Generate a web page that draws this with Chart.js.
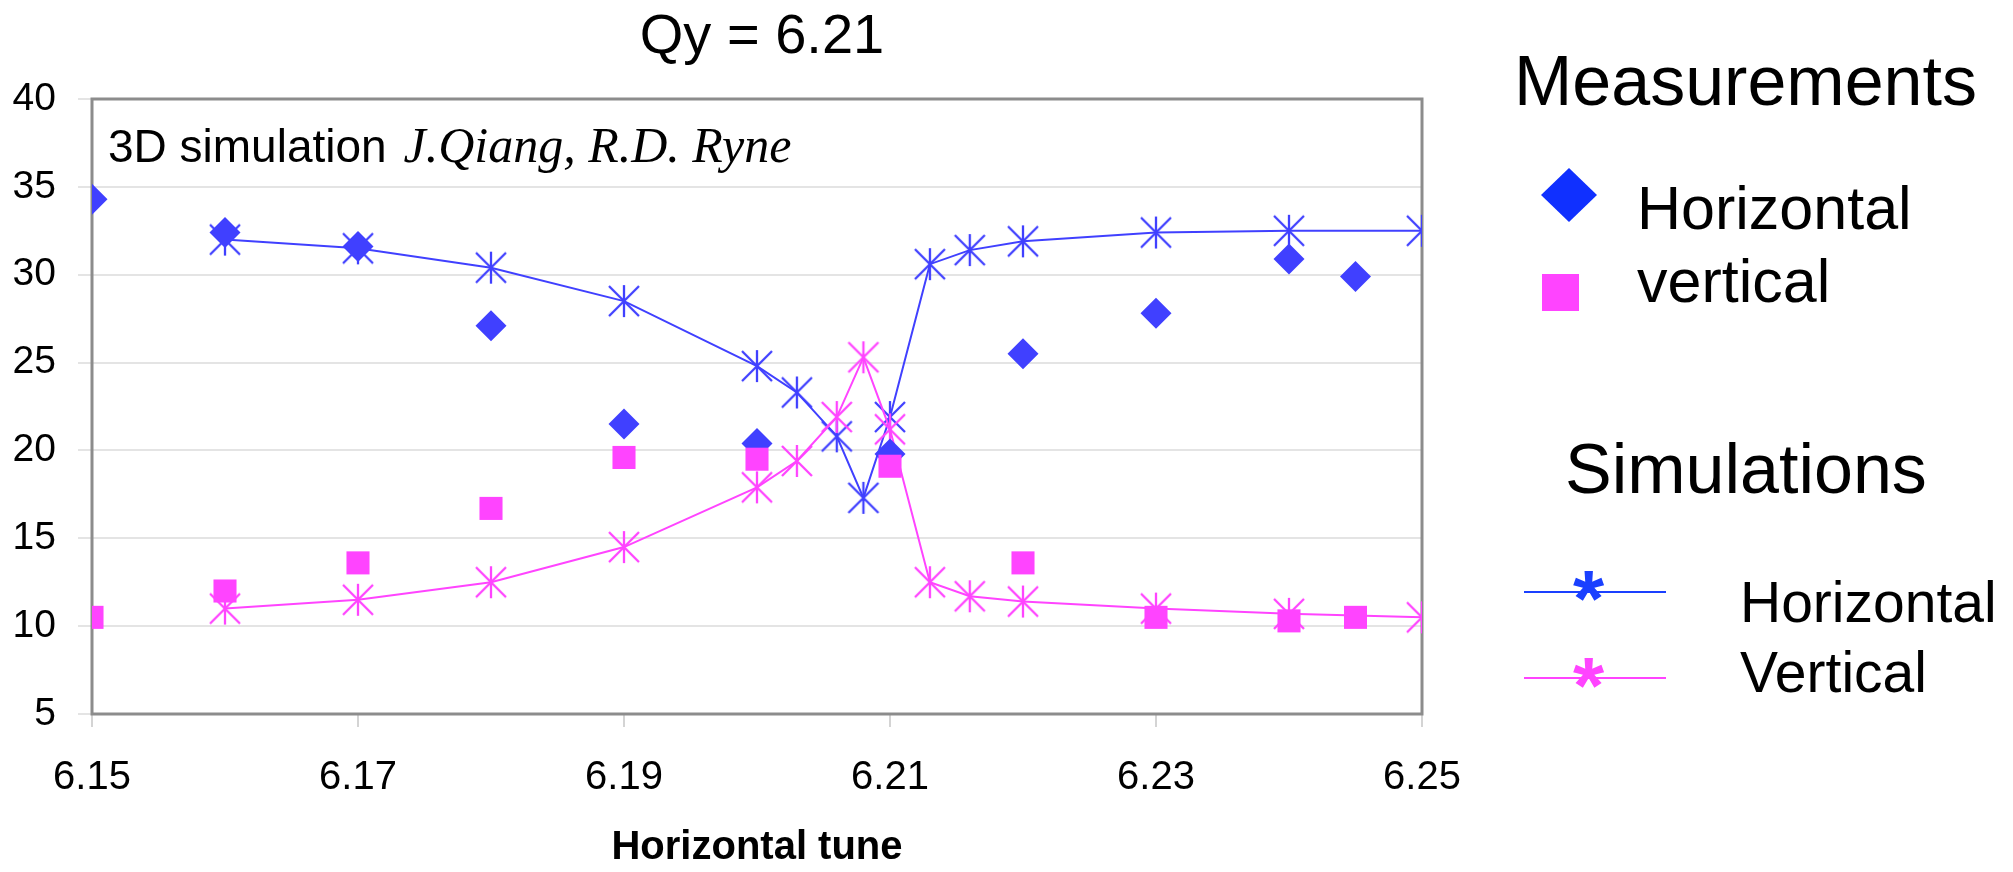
<!DOCTYPE html>
<html>
<head>
<meta charset="utf-8">
<title>Qy = 6.21</title>
<script src="https://cdn.jsdelivr.net/npm/chart.js@4.4.1/dist/chart.umd.min.js"></script>
<style>
  html, body { margin: 0; padding: 0; background: #ffffff; }
  #wrap { width: 2013px; height: 872px; }
</style>
</head>
<body>
<div id="wrap"><canvas id="chart" width="2013" height="872"></canvas></div>
<script>
// Horizontal-tune scan at Qy = 6.21: measured and simulated values
const measTune      = [6.15, 6.16, 6.17, 6.18, 6.19, 6.20, 6.21, 6.22, 6.23, 6.24, 6.245];
const measHoriz     = [34.3, 32.4, 31.6, 27.1, 21.5, 20.4, 19.8, 25.5, 27.8, 30.9, 29.9];
const measVert      = [10.5, 12.0, 13.6, 16.7, 19.6, 19.5, 19.1, 13.6, 10.5, 10.3, 10.5];

const simTune       = [6.16, 6.17, 6.18, 6.19, 6.20, 6.203, 6.206, 6.208, 6.21, 6.213, 6.216, 6.22, 6.23, 6.24, 6.25];
const simHoriz      = [32.0, 31.5, 30.4, 28.5, 24.8, 23.3, 20.8, 17.3, 21.9, 30.6, 31.4, 31.9, 32.4, 32.5, 32.5];
const simVert       = [11.0, 11.5, 12.5, 14.5, 17.9, 19.4, 21.9, 25.3, 21.2, 12.5, 11.7, 11.4, 11.0, 10.7, 10.5];

const xTickValues   = [6.15, 6.17, 6.19, 6.21, 6.23, 6.25];
const xTickLabels   = ['6.15', '6.17', '6.19', '6.21', '6.23', '6.25'];
const yTickValues   = [5, 10, 15, 20, 25, 30, 35, 40];
const yTickLabels   = ['5', '10', '15', '20', '25', '30', '35', '40'];

const BLUE = '#4040ff';
const PINK = '#ff44ff';
const SANS = "'Liberation Sans', Arial, sans-serif";
const SERIF = "'Liberation Serif', 'Times New Roman', serif";

const pairs = (xs, ys) => xs.map((x, i) => ({ x: x, y: ys[i] }));

// Excel-style star marker: an X with a vertical stroke
function starMarker(color) {
  const s = 34;
  const c = document.createElement('canvas');
  c.width = s; c.height = s;
  const g = c.getContext('2d');
  g.strokeStyle = color;
  g.lineWidth = 2.3;
  g.lineCap = 'butt';
  g.beginPath();
  g.moveTo(2, 2); g.lineTo(s - 2, s - 2);
  g.moveTo(s - 2, 2); g.lineTo(2, s - 2);
  g.moveTo(s / 2, 1); g.lineTo(s / 2, s - 1);
  g.stroke();
  return c;
}

// Frame, heading, note and the side key
const decorations = {
  id: 'decorations',
  beforeDatasetsDraw(chart) {
    const { ctx, chartArea: a } = chart;
    ctx.save();
    ctx.strokeStyle = '#8c8c8c';
    ctx.lineWidth = 3;
    ctx.strokeRect(a.left, a.top, a.right - a.left, a.bottom - a.top);
    ctx.restore();
  },
  afterDraw(chart) {
    const ctx = chart.ctx;
    ctx.save();
    ctx.fillStyle = '#000';
    ctx.textBaseline = 'alphabetic';

    // heading
    ctx.textAlign = 'center';
    ctx.font = '56px ' + SANS;
    ctx.fillText('Qy = 6.21', 762, 53);

    // note inside the plot
    ctx.textAlign = 'left';
    ctx.font = '46px ' + SANS;
    const lead = '3D simulation ';
    ctx.fillText(lead, 108, 162);
    const w = ctx.measureText(lead).width;
    ctx.font = 'italic 50px ' + SERIF;
    ctx.fillText('J.Qiang, R.D. Ryne', 108 + w + 4, 162);

    // key: measurements
    ctx.font = '70px ' + SANS;
    ctx.fillText('Measurements', 1514, 105);
    ctx.fillStyle = '#1030ff';
    ctx.beginPath();
    ctx.moveTo(1569, 168); ctx.lineTo(1597, 195); ctx.lineTo(1569, 222); ctx.lineTo(1541, 195);
    ctx.closePath(); ctx.fill();
    ctx.fillStyle = PINK;
    ctx.fillRect(1542, 274, 37, 37);
    ctx.fillStyle = '#000';
    ctx.font = '61px ' + SANS;
    ctx.fillText('Horizontal', 1637, 229);
    ctx.fillText('vertical', 1637, 302);

    // key: simulations
    ctx.font = '70px ' + SANS;
    ctx.fillText('Simulations', 1565, 493);
    const simKey = [
      { color: '#1a40ff', lineY: 592, starY: 586, label: 'Horizontal', textY: 622 },
      { color: PINK,      lineY: 678, starY: 673, label: 'Vertical',   textY: 692 }
    ];
    simKey.forEach(k => {
      ctx.strokeStyle = k.color;
      ctx.lineWidth = 2;
      ctx.beginPath();
      ctx.moveTo(1524, k.lineY); ctx.lineTo(1666, k.lineY);
      ctx.stroke();
      ctx.font = 'bold 80px ' + SANS;
      const m = ctx.measureText('*');
      const gw = m.actualBoundingBoxRight + m.actualBoundingBoxLeft;
      const gh = m.actualBoundingBoxAscent + m.actualBoundingBoxDescent;
      ctx.fillStyle = k.color;
      ctx.textAlign = 'left';
      ctx.fillText('*', 1589 - gw / 2 + m.actualBoundingBoxLeft,
                   k.starY + gh / 2 - m.actualBoundingBoxDescent);
      ctx.fillStyle = '#000';
      ctx.font = '57px ' + SANS;
      ctx.fillText(k.label, 1740, k.textY);
    });
    ctx.restore();
  }
};

Chart.defaults.font.family = SANS;
Chart.defaults.color = '#000';

new Chart(document.getElementById('chart'), {
  type: 'scatter',
  data: {
    datasets: [
      {
        label: 'vertical',
        data: pairs(measTune, measVert),
        pointStyle: 'rect',
        pointRadius: 16.3,
        pointHoverRadius: 16.3,
        backgroundColor: PINK,
        borderWidth: 0,
        showLine: false,
        order: 0
      },
      {
        label: 'Horizontal',
        data: pairs(measTune, measHoriz),
        pointStyle: 'rectRot',
        pointRadius: 15.5,
        pointHoverRadius: 15.5,
        backgroundColor: BLUE,
        borderWidth: 0,
        showLine: false,
        order: 1
      },
      {
        label: 'Vertical (sim)',
        data: pairs(simTune, simVert),
        pointStyle: starMarker(PINK),
        borderColor: PINK,
        backgroundColor: PINK,
        borderWidth: 2,
        showLine: true,
        tension: 0,
        order: 2
      },
      {
        label: 'Horizontal (sim)',
        data: pairs(simTune, simHoriz),
        pointStyle: starMarker(BLUE),
        borderColor: BLUE,
        backgroundColor: BLUE,
        borderWidth: 2,
        showLine: true,
        tension: 0,
        order: 3
      }
    ]
  },
  options: {
    responsive: false,
    animation: false,
    devicePixelRatio: 1,
    layout: { padding: { left: 0, right: 591, top: 99, bottom: 0 } },
    plugins: {
      legend: { display: false },
      title: { display: false },
      tooltip: { enabled: false }
    },
    scales: {
      x: {
        type: 'linear',
        min: 6.15,
        max: 6.25,
        afterBuildTicks: s => { s.ticks = xTickValues.map(v => ({ value: v })); },
        afterFit: s => { s.height = 158; },
        ticks: {
          autoSkip: false,
          maxRotation: 0,
          padding: 27,
          font: { size: 40 },
          color: '#000',
          callback: (v, i) => xTickLabels[i]
        },
        grid: {
          drawOnChartArea: false,
          drawTicks: true,
          tickLength: 13,
          color: '#d4d4d4',
          lineWidth: 2
        },
        border: { display: false },
        title: {
          display: true,
          text: 'Horizontal tune',
          font: { size: 40, weight: 'bold' },
          color: '#000',
          padding: { top: 0, bottom: 0 }
        }
      },
      y: {
        type: 'linear',
        min: 5,
        max: 40,
        afterBuildTicks: s => { s.ticks = yTickValues.map(v => ({ value: v })); },
        afterFit: s => { s.width = 92; },
        ticks: {
          padding: 22,
          font: { size: 39 },
          color: '#000',
          callback: (v, i) => yTickLabels[i]
        },
        grid: {
          drawTicks: true,
          tickLength: 14,
          color: '#e4e4e4',
          lineWidth: 2
        },
        border: { display: false }
      }
    }
  },
  plugins: [decorations]
});
</script>
</body>
</html>
